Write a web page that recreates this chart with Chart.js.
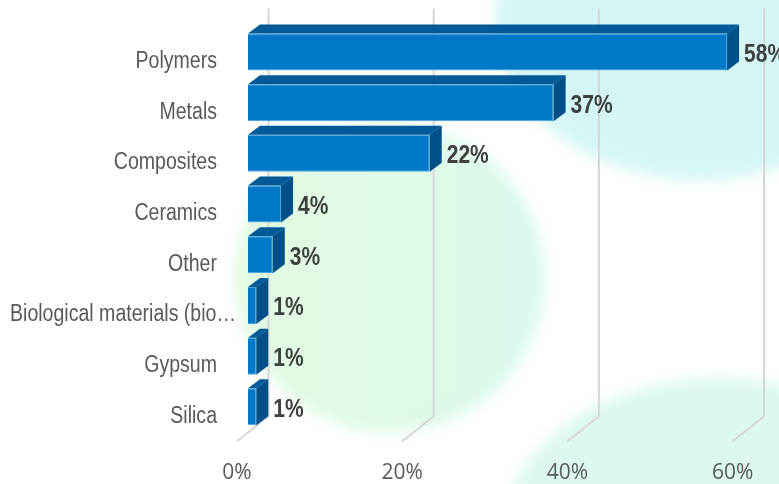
<!DOCTYPE html>
<html>
<head>
<meta charset="utf-8">
<script src="https://cdn.jsdelivr.net/npm/chart.js@4.4.1/dist/chart.umd.min.js"></script>
<style>
  html, body { margin: 0; padding: 0; background: #fff; }
  #area { width: 779px; height: 484px; }
</style>
</head>
<body>
<div id="area"><canvas id="grafico"></canvas></div>
<script>
const materiais = ['Polymers', 'Metals', 'Composites', 'Ceramics', 'Other', 'Biological materials (bio…', 'Gypsum', 'Silica'];
const percentuais = [58, 37, 22, 4, 3, 1, 1, 1];
const eixoMaximo = 60;
const eixoPasso = 20;

const fonteTexto = '"Liberation Sans", Arial, sans-serif';

// cores das faces da barra
const corFrente = '#0078c8';
const corTopo = '#005a98';
const corLado = '#004f86';

// profundidade do "3D": barra e parede de fundo
const profBarra = { dx: 12, dy: -9 };
const paredeDx = 20.5;
const chaoDx = -11;

// texto "estreito": a fonte normal comprimida na horizontal
function textoEstreito(ctx, texto, x, y, aperto) {
  ctx.save();
  ctx.translate(x, y);
  ctx.scale(aperto, 1);
  ctx.fillText(texto, 0, 0);
  ctx.restore();
}

const fundo = {
  id: 'fundo',
  beforeDraw(grafico) {
    const ctx = grafico.ctx;
    ctx.save();
    ctx.fillStyle = '#ffffff';
    ctx.fillRect(0, 0, grafico.width, grafico.height);
    ctx.filter = 'blur(7px)';

    ctx.fillStyle = '#d4f6f5';
    ctx.beginPath();
    ctx.ellipse(700, 20, 205, 160, 0, 0, Math.PI * 2);
    ctx.fill();

    const verde = ctx.createLinearGradient(235, 0, 545, 0);
    verde.addColorStop(0, '#e2fae2');
    verde.addColorStop(1, '#dcf9ec');
    ctx.fillStyle = verde;
    ctx.beginPath();
    ctx.arc(390, 278, 155, 0, Math.PI * 2);
    ctx.fill();

    ctx.fillStyle = '#ddf9eb';
    ctx.beginPath();
    ctx.ellipse(720, 530, 215, 152, 0, 0, Math.PI * 2);
    ctx.fill();

    ctx.restore();
  }
};

const grade3d = {
  id: 'grade3d',
  beforeDatasetsDraw(grafico) {
    const { ctx, chartArea, scales } = grafico;
    ctx.save();
    ctx.strokeStyle = '#d6d6d6';
    ctx.lineWidth = 2;
    scales.x.ticks.forEach(tick => {
      const x = scales.x.getPixelForValue(tick.value);
      ctx.beginPath();
      ctx.moveTo(x + paredeDx, chartArea.top - 18);
      ctx.lineTo(x + paredeDx, chartArea.bottom - 16);
      ctx.lineTo(x + chaoDx, chartArea.bottom + 9);
      ctx.stroke();
    });
    ctx.restore();
  }
};

const barras3d = {
  id: 'barras3d',
  afterDatasetsDraw(grafico) {
    const ctx = grafico.ctx;
    const meta = grafico.getDatasetMeta(0);
    ctx.save();
    meta.data.forEach((barra, i) => {
      const { x, y, base, height } = barra.getProps(['x', 'y', 'base', 'height'], true);
      const topo = y - height / 2;
      const baixo = y + height / 2;

      ctx.fillStyle = corTopo;
      ctx.beginPath();
      ctx.moveTo(base, topo);
      ctx.lineTo(x, topo);
      ctx.lineTo(x + profBarra.dx, topo + profBarra.dy);
      ctx.lineTo(base + profBarra.dx, topo + profBarra.dy);
      ctx.closePath();
      ctx.fill();

      ctx.fillStyle = corLado;
      ctx.beginPath();
      ctx.moveTo(x, topo);
      ctx.lineTo(x + profBarra.dx, topo + profBarra.dy);
      ctx.lineTo(x + profBarra.dx, baixo + profBarra.dy);
      ctx.lineTo(x, baixo);
      ctx.closePath();
      ctx.fill();

      ctx.fillStyle = '#404040';
      ctx.font = 'bold 25px ' + fonteTexto;
      ctx.textAlign = 'left';
      ctx.textBaseline = 'alphabetic';
      textoEstreito(ctx, percentuais[i] + '%', x + profBarra.dx + 5, y + 10, 0.84);
    });
    ctx.restore();
  }
};

// nomes das categorias, alinhados à direita sem sair da tela
const rotulosCategoria = {
  id: 'rotulosCategoria',
  afterDraw(grafico) {
    const { ctx, scales } = grafico;
    const aperto = 0.85;
    ctx.save();
    ctx.font = '23px ' + fonteTexto;
    ctx.fillStyle = '#595959';
    ctx.textAlign = 'right';
    ctx.textBaseline = 'alphabetic';
    materiais.forEach((nome, i) => {
      const y = scales.y.getPixelForValue(i);
      const largura = ctx.measureText(nome).width * aperto;
      const fim = Math.max(217, 10 + largura);
      textoEstreito(ctx, nome, fim, y + 16, aperto);
    });
    ctx.restore();
  }
};

const grafico = new Chart(document.getElementById('grafico'), {
  type: 'bar',
  data: {
    labels: materiais,
    datasets: [{
      data: percentuais,
      backgroundColor: corFrente,
      borderColor: '#4a9fdc',
      borderWidth: 1,
      categoryPercentage: 1,
      barPercentage: 0.73
    }]
  },
  options: {
    indexAxis: 'y',
    responsive: true,
    maintainAspectRatio: false,
    animation: false,
    layout: { padding: { top: 26.6, right: 35.4, left: 0, bottom: 0 } },
    plugins: {
      legend: { display: false },
      tooltip: { enabled: false }
    },
    scales: {
      x: {
        min: 0,
        max: eixoMaximo,
        grid: { display: false, drawTicks: false },
        border: { display: false },
        ticks: {
          stepSize: eixoPasso,
          labelOffset: -11,
          padding: 28,
          color: '#595959',
          font: { family: '"Open Sans", sans-serif', size: 21 },
          callback: valor => valor + '%'
        },
        afterFit(escala) {
          escala.height = 51.8;
          escala.paddingLeft = 0;
          escala.paddingRight = 0;
        }
      },
      y: {
        grid: { display: false },
        border: { display: false },
        ticks: { display: false },
        afterFit(escala) { escala.width = 248; }
      }
    }
  },
  plugins: [fundo, grade3d, barras3d, rotulosCategoria]
});
</script>
</body>
</html>
